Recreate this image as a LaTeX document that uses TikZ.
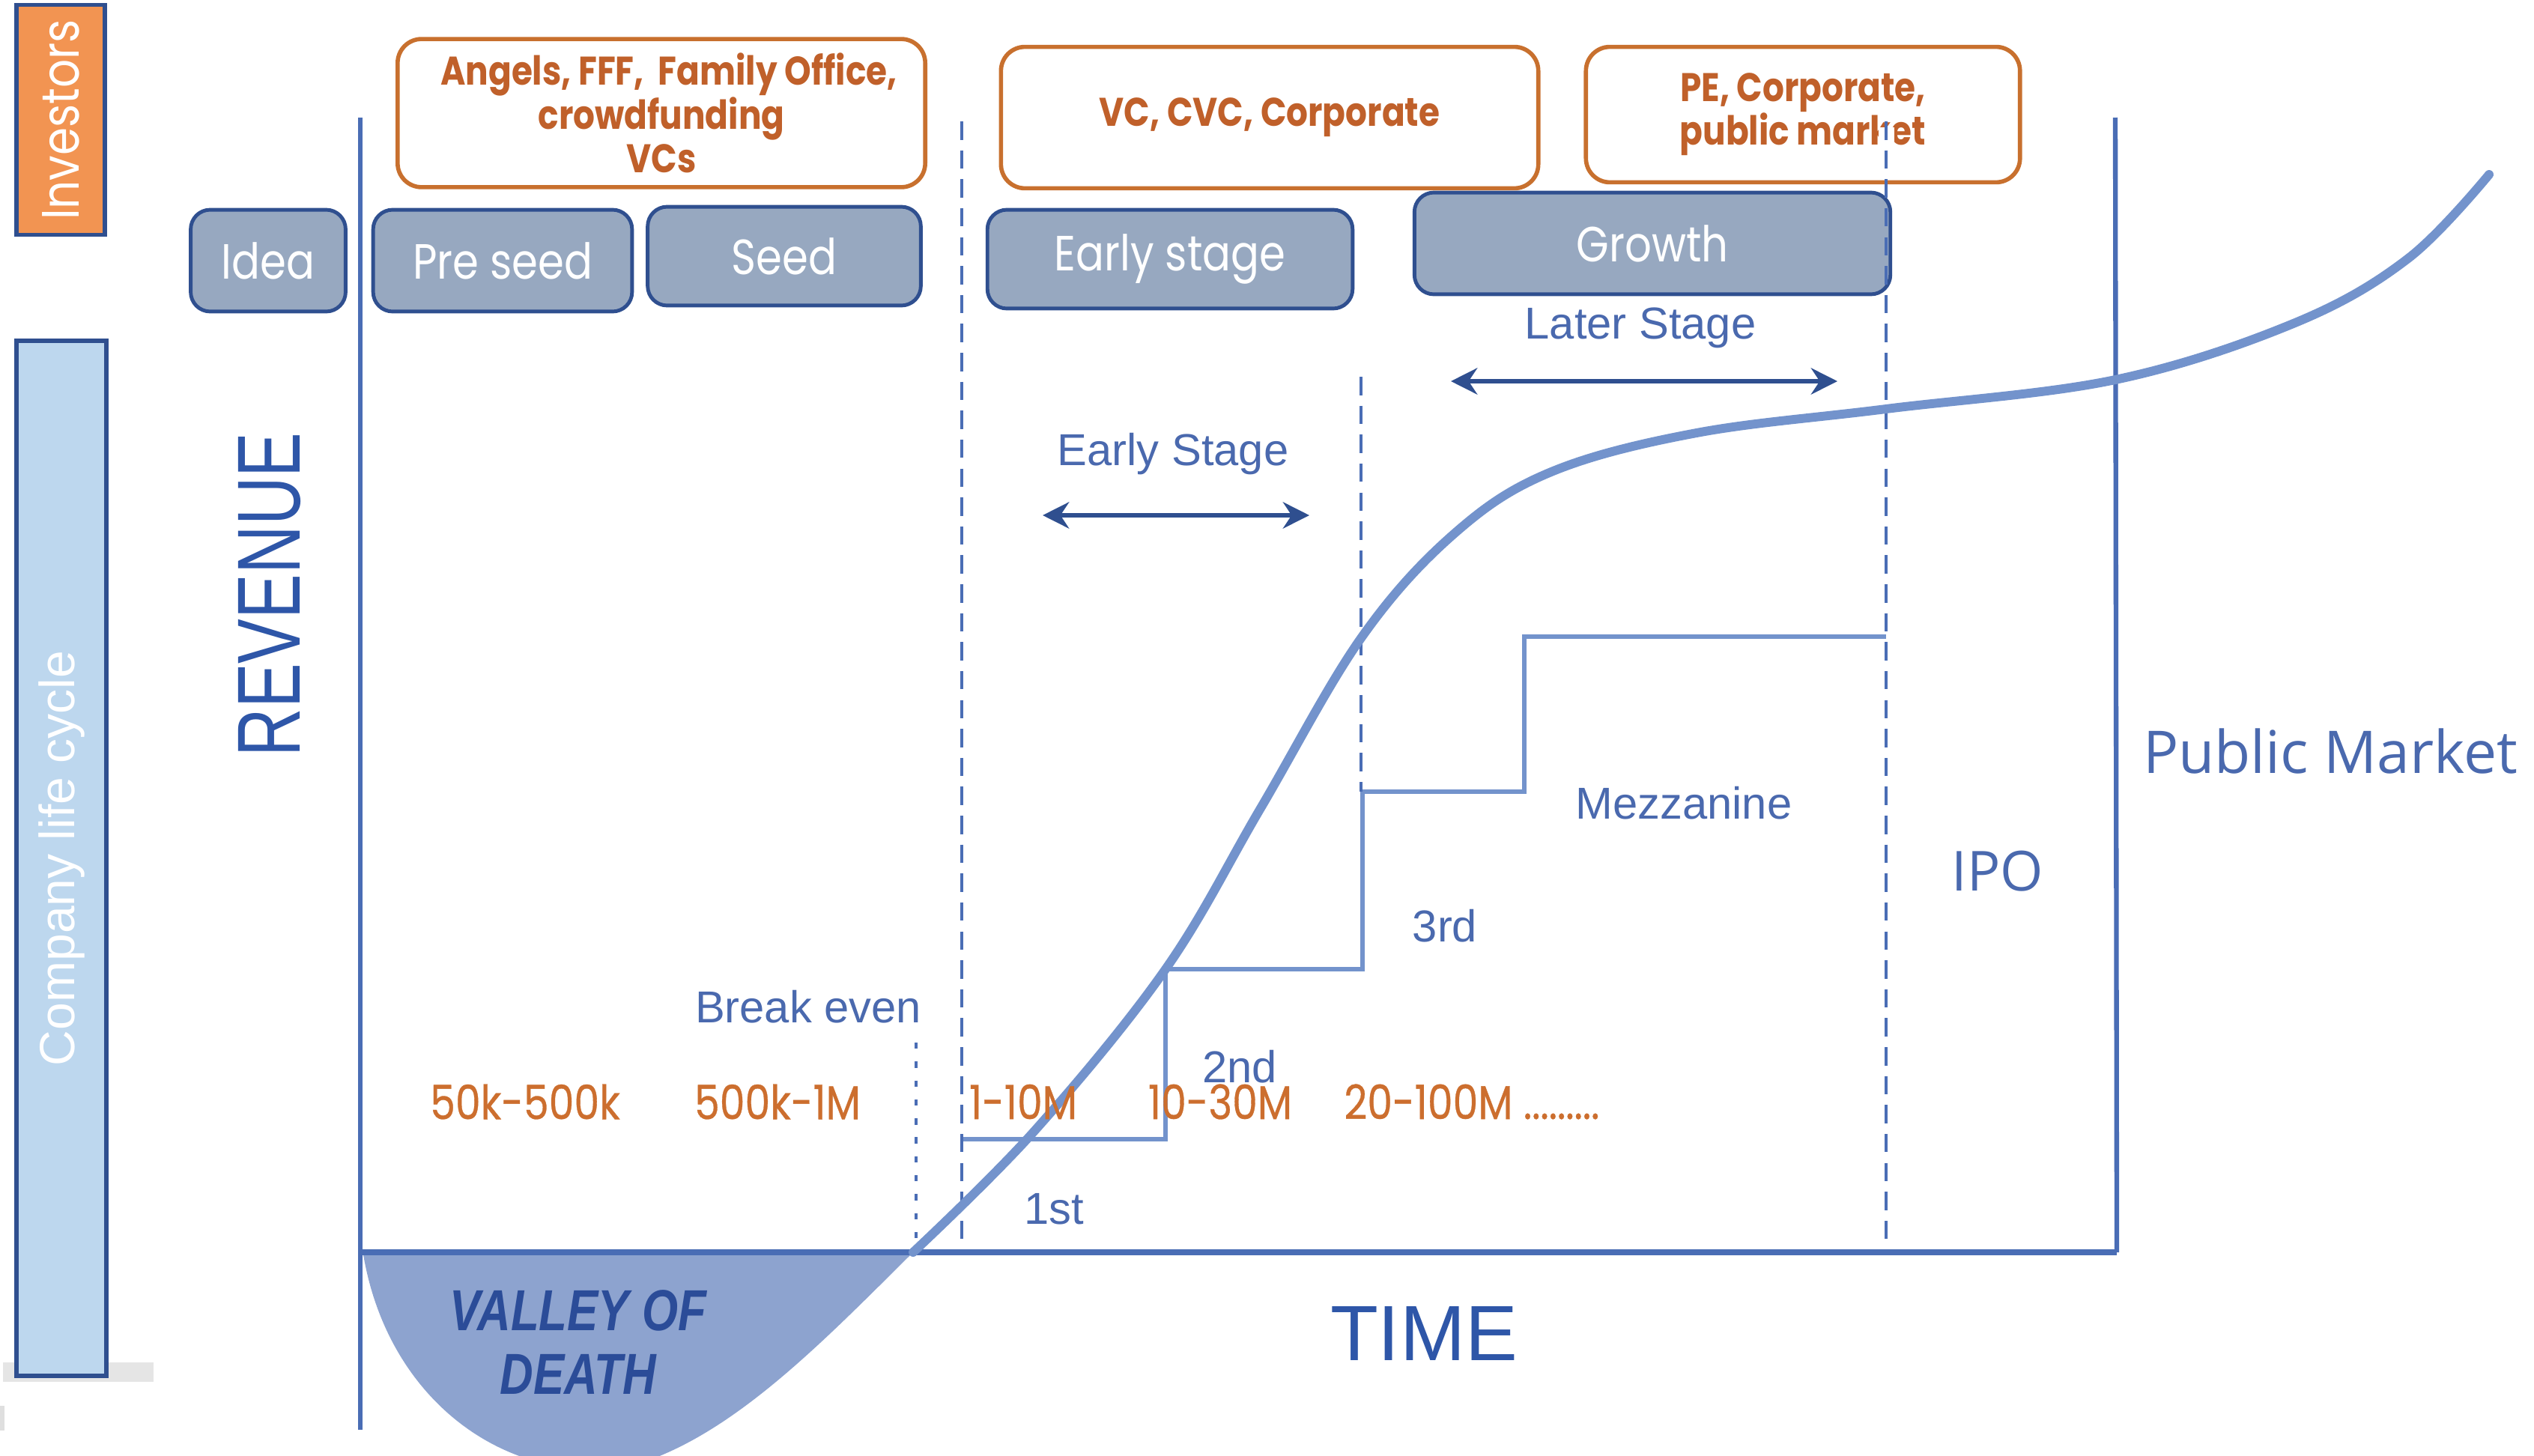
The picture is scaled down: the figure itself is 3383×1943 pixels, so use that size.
\documentclass[tikz,border=0pt]{standalone}
\usepackage{fontspec}
\setmainfont{Liberation Sans}
\newfontfamily\popfont[FakeStretch=0.85]{Poppins}
\newfontfamily\popmed[FakeStretch=0.85,FakeBold=0.5]{Poppins}
\newfontfamily\opfont{Open Sans}
\usetikzlibrary{arrows.meta}

\definecolor{stagefill}{HTML}{97A8C0}
\definecolor{stageline}{HTML}{2F4F8F}
\definecolor{investline}{HTML}{C8702E}
\definecolor{investtext}{HTML}{C0602A}
\definecolor{amounttext}{HTML}{CC6E2E}
\definecolor{investfill}{HTML}{F29452}
\definecolor{lifefill}{HTML}{BDD7EE}
\definecolor{chartline}{HTML}{4A6DB5}
\definecolor{curveline}{HTML}{7393CC}
\definecolor{labeltext}{HTML}{4A69AE}
\definecolor{axistext}{HTML}{2E56A8}
\definecolor{valleyfill}{HTML}{8DA3CF}
\definecolor{valleytext}{HTML}{2B4C98}

\begin{document}
\begin{tikzpicture}[x=0.005cm, y=-0.005cm]
\tikzstyle{stagebox} = [rectangle, draw=stageline, line width=0.7pt, fill=stagefill, rounded corners=0.13cm, text=white, inner sep=0pt, font=\popfont\fontsize{9.4}{11}\selectfont]
\tikzstyle{investbox} = [rectangle, draw=investline, line width=0.8pt, fill=white, rounded corners=0.16cm, text=investtext, align=center, inner sep=0pt, font=\popfont\bfseries\fontsize{7.6}{8.3}\selectfont]
\tikzstyle{sidebox} = [rectangle, draw=stageline, line width=0.8pt, text=white, inner sep=0pt]
\tikzstyle{label} = [text=labeltext, font=\fontsize{8.5}{10}\selectfont]
\tikzstyle{amount} = [text=amounttext, font=\popmed\fontsize{9}{10}\selectfont]
\tikzstyle{arrow} = [line width=0.9pt, {Stealth[length=5pt,width=5pt]}-{Stealth[length=5pt,width=5pt]}, draw=stageline]
\tikzstyle{stageline} = [line width=0.6pt, draw=chartline, dash pattern=on 3.5pt off 2pt]
\useasboundingbox (0,0) rectangle (3383,1943);

% left side bars
\fill [gray!20] (4,1819) rectangle (205,1845);
\fill [gray!25] (0,1877) rectangle (6,1910);
\node [sidebox, fill=investfill, minimum width=0.59cm, minimum height=1.535cm] (investors) at (81,160) {};
\node [rotate=90, text=white, font=\popfont\fontsize{10}{12}\selectfont] (investorslbl) at (investors) {Investors};
\node [sidebox, fill=lifefill, minimum width=0.6cm, minimum height=6.915cm] (life) at (82,1146) {};
\node [rotate=90, text=white, font=\fontsize{9.4}{11}\selectfont] (lifelbl) at (life) {Company life cycle};

% valley of death
\fill [valleyfill] (485,1675) .. controls (520,1880) and (690,1990) .. (850,1955)
  .. controls (980,1915) and (1100,1790) .. (1219,1672) -- cycle;
\node [text=valleytext, font=\bfseries\itshape, align=center] (valley) at (772,1792)
  {\scalebox{0.8}[1]{\fontsize{11}{18.5}\selectfont VALLEY OF}\\\scalebox{0.8}[1]{\fontsize{11}{18.5}\selectfont DEATH}};

% axes
\coordinate (origin) at (481,1672);
\coordinate (ytop) at (481,157);
\coordinate (ybot) at (481,1909);
\coordinate (xend) at (2826,1672);
\coordinate (pmtop) at (2824,157);
\draw [chartline, line width=0.9pt] (ytop) -- (ybot);
\draw [chartline, line width=1.1pt] (origin) -- (xend);
\draw [chartline, line width=0.9pt] (pmtop) -- (xend);

% funding rounds
\draw [curveline, line width=0.8pt] (1284,1521) -- (1556,1521) -- (1556,1294) -- (1819,1294)
  -- (1819,1057) -- (2035,1057) -- (2035,850) -- (2518,850);

% stage boxes
\node [stagebox, minimum width=1.035cm, minimum height=0.68cm] (idea) at (358,348) {Idea};
\node [stagebox, minimum width=1.73cm, minimum height=0.68cm] (preseed) at (671,348) {Pre seed};
\node [stagebox, minimum width=1.825cm, minimum height=0.66cm] (seed) at (1047,342) {Seed};
\node [stagebox, minimum width=2.44cm, minimum height=0.66cm] (early) at (1562,346) {Early stage};
\node [stagebox, minimum width=3.18cm, minimum height=0.68cm] (growth) at (2206,325) {Growth};

% investor boxes
\node [investbox, minimum width=3.525cm, minimum height=0.99cm] (angels) at (883,151)
  {\hspace*{0.1cm}Angels, FFF,~ Family Office,\\crowdfunding\\VCs};
\node [investbox, minimum width=3.59cm, minimum height=0.945cm] (vc) at (1695,157) {VC, CVC, Corporate};
\node [investbox, minimum width=2.9cm, minimum height=0.905cm] (pe) at (2407,153) {PE, Corporate,\\public market};

% stage limits
\draw [white, line width=3pt] (2518,170) -- (2518,235);
\draw [stageline] (1284,162) -- (1284,1672);
\draw [stageline] (1817,503) -- (1817,1057);
\draw [stageline] (2518,162) -- (2518,1672);
\draw [chartline, line width=0.7pt, dash pattern=on 1.2pt off 2.4pt] (1223,1392) -- (1223,1672);

% growth curve
\draw [curveline, line width=1.7pt, line cap=round] plot [smooth, tension=0.6] coordinates {
  (1219,1672) (1381,1510) (1556,1294) (1683,1079) (1817,852) (1942,712) (2071,630)
  (2265,578) (2518,546) (2824,507) (3064,431) (3215,345) (3323,233)};

% stage arrows
\node [label] (earlylbl) at (1566,606) {Early Stage};
\coordinate (earlyl) at (1392,688);
\coordinate (earlyr) at (1748,688);
\draw [arrow] (earlyl) -- (earlyr);
\node [label] (laterlbl) at (2190,438) {Later Stage};
\coordinate (laterl) at (1937,509);
\coordinate (laterr) at (2453,509);
\draw [arrow] (laterl) -- (laterr);

% chart labels
\node [label] (breakeven) at (1079,1344) {Break even};
\node [label] (first) at (1407,1614) {1st};
\node [label] (second) at (1655,1424) {2nd};
\node [label] (third) at (1929,1236) {3rd};
\node [label] (mezz) at (2248,1072) {Mezzanine};
\node [text=labeltext, font=\opfont\fontsize{10.5}{12}\selectfont] (ipo) at (2667,1163) {IPO};
\node [text=labeltext, font=\opfont\fontsize{11.2}{13}\selectfont] (public) at (3111,1003) {Public Market};
\node [text=axistext, font=\fontsize{14.9}{17}\selectfont] (time) at (1901,1780) {TIME};
\node [text=axistext, rotate=90] (revenue) at (360,794) {\scalebox{0.75}[1]{\fontsize{17}{20}\selectfont REVENUE}};

% amounts
\node [amount] (amt1) at (701,1471) {50k-500k};
\node [amount] (amt2) at (1038,1471) {500k-1M};
\node [amount] (amt3) at (1366,1471) {1-10M};
\node [amount] (amt4) at (1629,1471) {10-30M};
\node [amount, anchor=west, inner sep=0pt] (amt5) at (1793,1471) {20-100M .........};
\end{tikzpicture}
\end{document}
